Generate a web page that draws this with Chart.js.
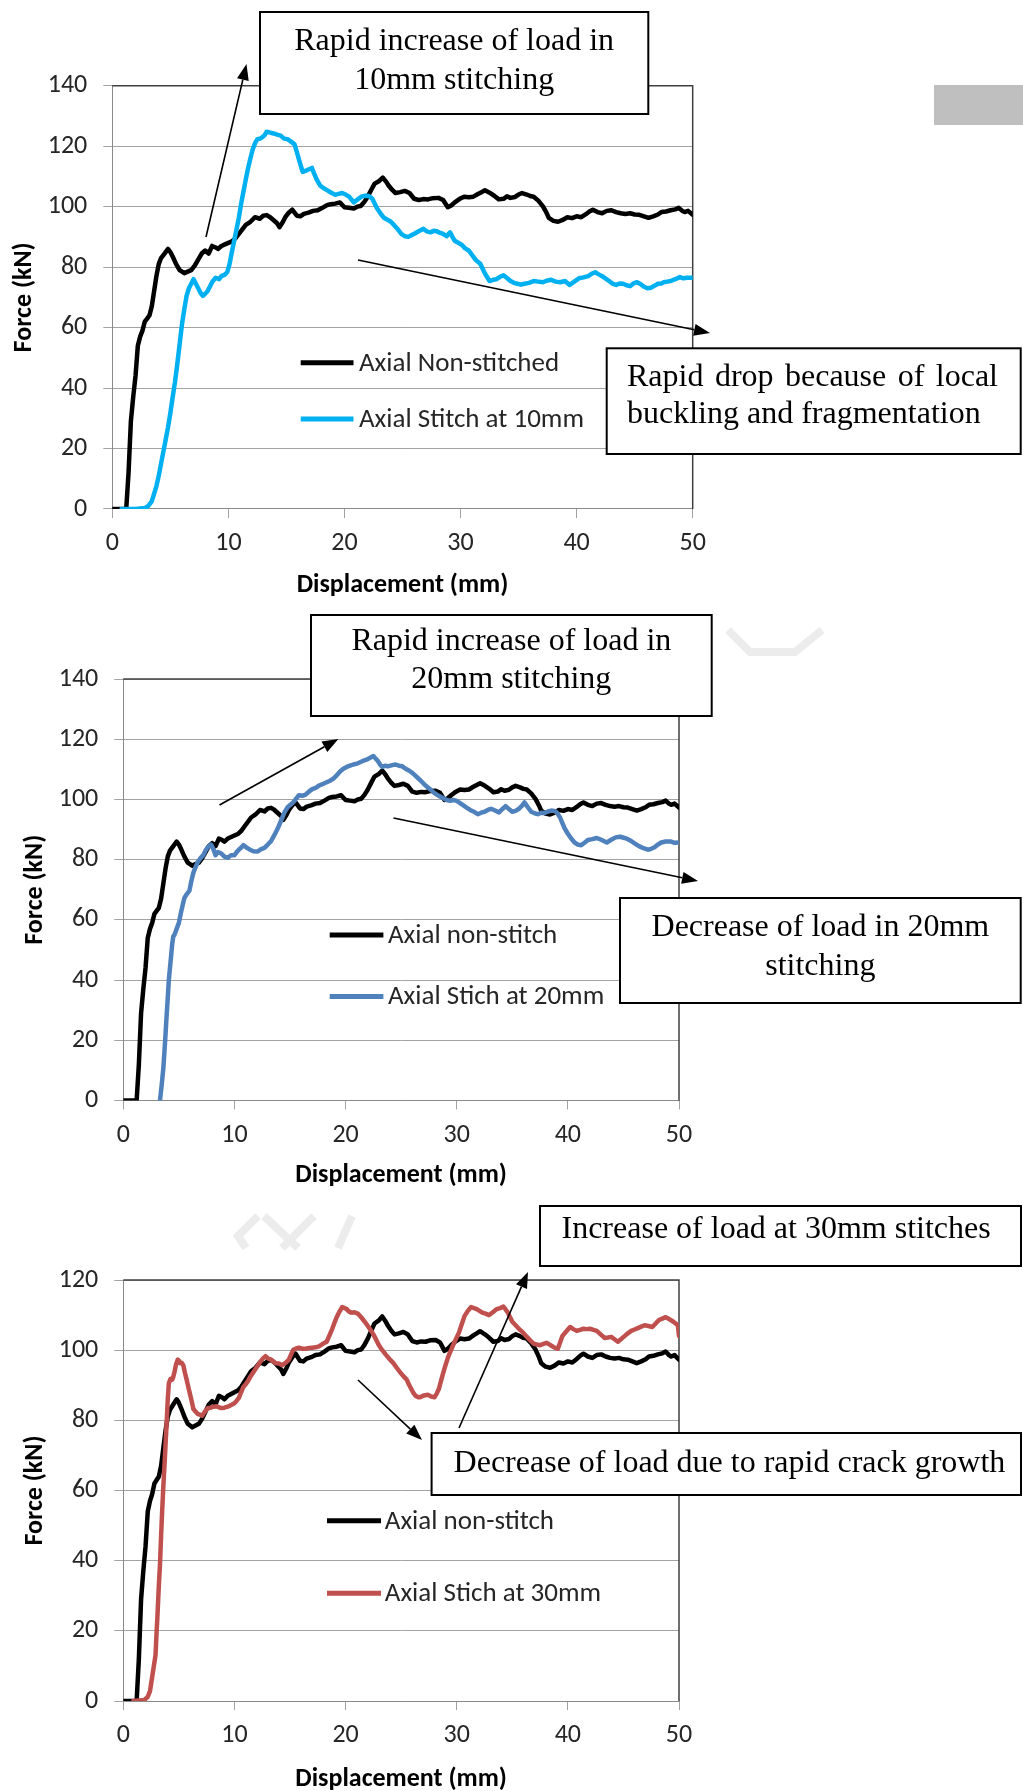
<!DOCTYPE html>
<html>
<head>
<meta charset="utf-8">
<script src="https://cdn.jsdelivr.net/npm/chart.js@4.4.1/dist/chart.umd.min.js"></script>
<style>
  html, body { margin: 0; padding: 0; background: #ffffff; width: 1023px; height: 1791px; overflow: hidden; }
  canvas { position: absolute; left: 0; top: 0; }
</style>
</head>
<body>
<canvas id="panel1" width="1023" height="1800"></canvas>
<canvas id="panel2" width="1023" height="1800"></canvas>
<canvas id="panel3" width="1023" height="1800"></canvas>
<script>
// ---- Load–displacement data (displacement in mm, force in kN) ----

// Axial, non-stitched specimen (reference curve shown in every panel)
const dispAxialNon = [
  0, 1.2, 1.4, 1.6, 1.8, 2.0, 2.2, 2.4, 2.6, 2.8,
  3.0, 3.2, 3.4, 3.6, 3.8, 4.0, 4.2, 4.5, 4.8, 5.0,
  5.2, 5.5, 5.8, 6.2, 6.5, 6.8, 7.1, 7.4, 7.7, 8.0,
  8.3, 8.6, 8.9, 9.1, 9.4, 9.7, 10.0, 10.3, 10.6, 10.9,
  11.2, 11.5, 11.9, 12.3, 12.7, 13.0, 13.3, 13.6, 13.9, 14.2,
  14.4, 14.7, 14.9, 15.2, 15.5, 15.9, 16.2, 16.5, 16.9, 17.3,
  17.7, 18.1, 18.5, 18.8, 19.2, 19.6, 20.0, 20.4, 20.8, 21.1,
  21.4, 21.7, 22.0, 22.3, 22.6, 23.0, 23.3, 23.6, 23.8, 24.1,
  24.4, 24.8, 25.2, 25.6, 26.0, 26.4, 26.8, 27.2, 27.6, 28.1,
  28.5, 28.9, 29.2, 29.5, 29.9, 30.3, 30.7, 31.1, 31.5, 31.8,
  32.1, 32.5, 32.9, 33.3, 33.7, 34.0, 34.3, 34.7, 35.0, 35.3,
  35.7, 36.0, 36.3, 36.7, 37.1, 37.4, 37.6, 38.0, 38.4, 38.8,
  39.2, 39.6, 40.0, 40.4, 40.8, 41.1, 41.4, 41.8, 42.2, 42.6,
  43.0, 43.4, 43.8, 44.2, 44.6, 45.0, 45.4, 45.8, 46.2, 46.6,
  47.0, 47.3, 47.7, 48.1, 48.5, 48.8, 49.1, 49.3, 49.6, 50.0
];
const forceAxialNon = [
  0, 0, 12, 29, 37, 44, 54, 57, 59, 62,
  63, 64, 67, 72, 77, 81, 83, 84.5, 86, 85,
  83.5, 81, 79, 78, 78.5, 79, 80.5, 82.5, 84.5, 85.5,
  84.5, 87, 86.5, 86, 87, 87.5, 88, 88.5, 89.5, 91,
  92.5, 94, 95, 96.5, 96, 97, 97.2, 96.5, 95.5, 94.5,
  93.2, 95, 96.5, 98, 99, 97, 96.8, 97.6, 98, 98.6,
  98.8, 99.6, 100.5, 100.8, 101, 101.4, 99.8, 99.6, 99.4, 100,
  100.2, 101.5, 103.3, 105.5, 107.6, 108.5, 109.6, 108.2, 107, 105.6,
  104.5, 104.8, 105.2, 104.5, 102.6, 102.2, 102.5, 102.4, 102.8, 102.9,
  102.2, 99.8, 100.4, 101.4, 102.5, 103.3, 103.1, 103.3, 104.2, 104.8,
  105.4, 104.6, 103.6, 102.4, 102.6, 103.4, 102.9, 103.2, 104, 104.5,
  104, 103.5, 103.3, 102, 100.1, 98, 96.3, 95.3, 95, 95.6,
  96.5, 96.2, 96.8, 96.5, 97.5, 98.4, 99, 98.2, 97.8, 98.6,
  98.8, 98.2, 97.8, 97.6, 97.8, 97.4, 97.3, 96.8, 96.3, 96.8,
  97.4, 98.2, 98.4, 98.8, 99.1, 99.6, 98.6, 98.2, 98.6, 97.3
];

// Axial, stitched at 10 mm
const dispStitch10 = [
  0.8, 2.0, 2.8, 3.1, 3.4, 3.6, 3.8, 4.0, 4.2, 4.4,
  4.6, 4.8, 5.0, 5.2, 5.4, 5.6, 5.8, 6.0, 6.2, 6.4,
  6.6, 6.8, 7.0, 7.2, 7.4, 7.6, 7.8, 8.0, 8.2, 8.4,
  8.6, 8.9, 9.2, 9.4, 9.7, 9.9, 10.1, 10.3, 10.5, 10.7,
  10.9, 11.1, 11.3, 11.5, 11.7, 11.9, 12.1, 12.3, 12.5, 12.8,
  13.1, 13.3, 13.6, 13.9, 14.2, 14.5, 14.8, 15.1, 15.4, 15.7,
  15.9, 16.1, 16.4, 16.8, 17.2, 17.4, 17.6, 17.9, 18.1, 18.6,
  18.9, 19.2, 19.5, 19.8, 20.1, 20.4, 20.8, 21.2, 21.5, 21.8,
  22.1, 22.4, 22.8, 23.1, 23.4, 24.0, 24.3, 24.6, 24.9, 25.2,
  25.5, 25.8, 26.1, 26.4, 26.8, 27.1, 27.4, 27.7, 27.9, 28.2,
  28.5, 28.8, 29.1, 29.3, 29.5, 30.1, 30.4, 30.7, 31.0, 31.3,
  31.7, 32.1, 32.5, 32.8, 33.1, 33.4, 33.7, 34.0, 34.3, 34.6,
  34.9, 35.2, 35.5, 35.9, 36.3, 36.7, 37.1, 37.4, 37.8, 38.2,
  38.6, 39.0, 39.4, 39.8, 40.2, 40.6, 41.0, 41.3, 41.6, 41.9,
  42.2, 42.5, 42.8, 43.1, 43.4, 43.7, 44.0, 44.3, 44.6, 44.9,
  45.2, 45.5, 45.8, 46.1, 46.4, 46.7, 47.0, 47.3, 47.5, 47.8,
  48.1, 48.5, 48.9, 49.2, 49.5, 50.0
];
const forceStitch10 = [
  0, 0, 0.3, 1, 2.5, 5, 7.6, 11, 15, 19,
  23, 27, 31.7, 37, 42, 48, 54.5, 61, 66, 70.5,
  73, 74.5, 76, 74.5, 73, 71.5, 70.5, 71.2, 72, 73.5,
  75, 76.5, 76, 77, 77.5, 78.3, 81, 85, 88.7, 92.5,
  96.3, 101, 105, 109, 112.8, 116, 119, 121, 122.3, 122.6,
  123.5, 124.8, 124.5, 124.2, 123.8, 123.5, 122.5, 122.3, 121.5, 120.6,
  118, 115.3, 111.5, 112.1, 112.8, 110.8, 109, 107, 106.4, 105.2,
  104.5, 103.9, 104.2, 104.5, 104, 103.3, 101.4, 102.6, 103.4, 103.6,
  103.5, 102.6, 99.5, 97.8, 96.3, 95, 93.8, 92.5, 91, 90.2,
  90, 90.6, 91.2, 91.9, 92.7, 91.8, 91.5, 92, 91.9, 91.4,
  91, 90.2, 91.5, 90, 88.7, 87.4, 86.2, 85.5, 84, 82.4,
  81.1, 77.9, 75.4, 75.8, 76, 76.8, 77.3, 76.4, 75.4, 74.8,
  74.5, 74.2, 74.5, 74.8, 75.4, 75.2, 75, 75.5, 75.8, 75.2,
  75, 75.4, 74.1, 75.2, 76.3, 76.6, 77, 77.8, 78.3, 77.6,
  77, 76.2, 75.4, 74.5, 74.1, 74.6, 74.5, 74, 73.7, 74.6,
  75, 74.4, 73.5, 73, 73.2, 73.8, 74.5, 74.6, 75, 75.2,
  75.4, 76, 76.7, 76.3, 76.5, 76.5
];

// Axial, stitched at 20 mm
const dispStitch20 = [
  3.3, 3.45, 3.6, 3.75, 3.9, 4.0, 4.1, 4.25, 4.4, 4.5,
  4.6, 4.8, 5.0, 5.2, 5.35, 5.5, 5.7, 5.95, 6.1, 6.3,
  6.5, 6.7, 6.95, 7.2, 7.4, 7.6, 7.9, 8.1, 8.3, 8.5,
  8.8, 9.1, 9.4, 9.7, 10.0, 10.2, 10.4, 10.6, 10.8, 11.1,
  11.4, 11.7, 12.1, 12.4, 12.7, 13.0, 13.3, 13.6, 13.9, 14.2,
  14.5, 14.8, 15.2, 15.5, 15.8, 16.1, 16.4, 16.7, 17.0, 17.3,
  17.6, 18.0, 18.3, 18.6, 18.9, 19.2, 19.5, 19.8, 20.1, 20.4,
  20.7, 21.1, 21.4, 21.7, 22.0, 22.3, 22.5, 22.7, 22.9, 23.1,
  23.3, 23.6, 23.8, 24.2, 24.5, 24.8, 25.1, 25.4, 25.7, 26.0,
  26.3, 26.6, 26.9, 27.2, 27.6, 27.9, 28.2, 28.5, 28.8, 29.1,
  29.4, 29.7, 30.0, 30.3, 30.7, 31.0, 31.3, 31.6, 31.9, 32.2,
  32.5, 32.8, 33.1, 33.4, 33.8, 34.1, 34.4, 34.7, 35.0, 35.3,
  35.6, 35.9, 36.1, 36.4, 36.7, 37.0, 37.3, 37.6, 37.9, 38.2,
  38.5, 38.8, 39.0, 39.3, 39.5, 39.7, 40.0, 40.3, 40.6, 40.9,
  41.2, 41.5, 41.8, 42.2, 42.6, 43.0, 43.5, 43.9, 44.3, 44.7,
  45.1, 45.4, 45.7, 46.0, 46.4, 46.8, 47.2, 47.5, 47.8, 48.1,
  48.4, 48.8, 49.3, 49.6, 50.0
];
const forceStitch20 = [
  0, 5, 10.6, 19, 28.4, 34, 40.2, 46, 52, 54.5,
  55, 57, 59, 62.6, 65, 67.3, 68.5, 69.7, 72.5, 75.6,
  77.5, 79.2, 80.5, 81.5, 83, 84.1, 85, 83.5, 81.5, 82.5,
  82.1, 81, 80.6, 81.5, 81.5, 82.5, 83.3, 84, 84.8, 84,
  83.3, 82.8, 82.7, 83.5, 83.9, 85, 86.2, 88.2, 90.4, 93,
  95.7, 97.5, 98.7, 100, 101.4, 101.2, 101.6, 102.6, 103.4, 103.8,
  104.6, 105.2, 105.7, 106.2, 106.9, 108, 109.3, 110.2, 110.8, 111.2,
  111.6, 112, 112.5, 113, 113.4, 114, 114.4, 113.6, 112.8, 111.6,
  110.8, 111.2, 111, 111.4, 111.6, 111.2, 111, 110.2, 109.6, 108.8,
  107.8, 106.8, 105.7, 104.6, 103.4, 102.4, 101.6, 101, 100.4, 99.8,
  99.5, 99.8, 99.5, 98.8, 97.8, 97, 96.3, 95.8, 95.1, 95.6,
  95.9, 96.5, 96.9, 96.4, 95.7, 96.8, 97.8, 96.8, 95.9, 96.2,
  96.9, 98, 99, 97.4, 95.9, 95.4, 95.1, 95.6, 95.5, 96,
  96.3, 96.2, 95.7, 94, 92.2, 90.5, 88.6, 87, 85.7, 85,
  84.8, 85.6, 86.5, 86.8, 87.2, 86.6, 85.7, 86.6, 87.4, 87.6,
  87.2, 86.8, 86.2, 85.4, 84.5, 83.8, 83.3, 83.6, 84.1, 85,
  85.7, 86, 86, 85.6, 85.7
];

// Axial, stitched at 30 mm
const dispStitch30 = [
  0.9, 1.9, 2.2, 2.4, 2.6, 2.75, 2.9, 3.0, 3.06, 3.2,
  3.3, 3.4, 3.5, 3.6, 3.7, 3.8, 3.9, 4.0, 4.1, 4.25,
  4.4, 4.5, 4.6, 4.75, 4.9, 5.0, 5.1, 5.25, 5.4, 5.55,
  5.7, 5.85, 6.0, 6.15, 6.3, 6.5, 6.7, 6.9, 7.1, 7.35,
  7.6, 7.85, 8.1, 8.4, 8.8, 9.1, 9.4, 9.7, 10.0, 10.2,
  10.4, 10.6, 10.8, 11.0, 11.2, 11.45, 11.7, 12.0, 12.3, 12.55,
  12.8, 13.05, 13.3, 13.5, 13.7, 14.0, 14.3, 14.6, 14.9, 15.1,
  15.3, 15.55, 15.8, 16.1, 16.4, 16.7, 17.0, 17.3, 17.6, 17.95,
  18.3, 18.55, 18.8, 19.0, 19.2, 19.45, 19.7, 19.9, 20.1, 20.3,
  20.5, 20.8, 21.1, 21.35, 21.6, 21.8, 22.0, 22.25, 22.5, 22.75,
  23.0, 23.3, 23.6, 23.95, 24.3, 24.6, 24.9, 25.2, 25.5, 25.7,
  25.9, 26.1, 26.3, 26.5, 26.7, 27.05, 27.4, 27.7, 28.0, 28.2,
  28.4, 28.6, 28.8, 29.0, 29.2, 29.4, 29.6, 29.9, 30.2, 30.45,
  30.7, 31.0, 31.3, 31.55, 31.8, 32.05, 32.3, 32.6, 32.9, 33.25,
  33.6, 33.9, 34.2, 34.4, 34.6, 34.8, 35.0, 35.3, 35.6, 35.9,
  36.2, 36.55, 36.9, 37.2, 37.5, 37.8, 38.1, 38.4, 38.7, 38.9,
  39.1, 39.3, 39.5, 39.85, 40.2, 40.5, 40.8, 41.1, 41.4, 41.7,
  42.0, 42.3, 42.6, 42.95, 43.3, 43.6, 43.9, 44.2, 44.5, 44.8,
  45.1, 45.4, 45.7, 46.0, 46.3, 46.6, 46.9, 47.25, 47.6, 47.9,
  48.2, 48.5, 48.8, 49.15, 49.5, 49.7, 49.9, 50.0
];
const forceStitch30 = [
  0, 0.3, 1.2, 2.8, 6.9, 10, 13.1, 20, 23.4, 33,
  38.9, 47, 54.4, 61, 66.8, 73, 79.2, 86, 90.6, 91.8,
  91.6, 92.4, 93.7, 96, 97.3, 97, 96.3, 96.4, 95.7, 93.5,
  91.6, 89.5, 87.5, 85.5, 83.3, 82.5, 81.8, 81.6, 81.3, 82.5,
  83.5, 83.6, 83.9, 84, 83.5, 83.6, 83.9, 84.4, 84.9, 85.6,
  86.4, 88, 89.5, 90.2, 91.1, 92.5, 93.7, 95.1, 96.6, 97.6,
  98.3, 97.6, 97.3, 96.8, 96.3, 96.2, 95.7, 96.4, 97.3, 98.8,
  100.1, 100.5, 100.7, 100.4, 100.4, 100.6, 100.7, 100.8, 101.1, 101.8,
  102.4, 104.2, 106.1, 107.8, 109.4, 111, 112.3, 112, 111.7, 111,
  110.7, 110.8, 110.4, 109.6, 108.6, 107.8, 106.9, 105.8, 104.5, 103,
  101.4, 100, 98.8, 97.5, 96.3, 95, 93.7, 92.6, 91.6, 90.2,
  89, 87.8, 87, 86.6, 86.6, 87.1, 87.3, 86.8, 86.6, 87.6,
  89, 91.4, 93.7, 95.8, 97.8, 99.4, 100.9, 103, 105, 107.4,
  109.7, 111.2, 112.3, 112, 111.7, 111.2, 110.7, 110.4, 110, 110.8,
  111.7, 112, 112.4, 111.6, 110.7, 109.4, 108.1, 107.1, 106.1, 105.2,
  104.2, 103, 101.9, 101.6, 101.4, 101.8, 102.1, 101.5, 100.9, 100.6,
  100.4, 102.2, 104, 105.3, 106.6, 106, 105.5, 105.8, 106.1, 106,
  106.1, 105.8, 105.5, 104.5, 103.5, 103.6, 103.8, 103.1, 102.4, 103.2,
  104, 104.8, 105.5, 105.9, 106.3, 106.7, 107.1, 106.9, 106.6, 107.6,
  108.6, 109, 109.4, 108.8, 108.1, 107.6, 107.1, 104
];

// Axis ranges and tick spacing
const dispRange = [0, 50];
const dispStep = 10;
const forceStep = 20;
const forceMax = [140, 140, 120];

// Text
const xTitle = 'Displacement (mm)';
const yTitle = 'Force (kN)';
const seriesLabels = [
  ['Axial Non-stitched', 'Axial Stitch at 10mm'],
  ['Axial non-stitch', 'Axial Stich at 20mm'],
  ['Axial non-stitch', 'Axial Stich at 30mm']
];
const noteTexts = [
  [['Rapid increase of load in', '10mm stitching'], ['Rapid drop because of local', 'buckling and fragmentation']],
  [['Rapid increase of load in', '20mm stitching'], ['Decrease of load in 20mm', 'stitching']],
  [['Increase of load at 30mm stitches'], ['Decrease of load due to rapid crack growth']]
];
const seriesColors = ['#000000', '#00b0f0', '#4f81bd', '#c0504d'];

// ---- Drawing helpers ----
const SANS = 'Carlito, Calibri, Lato, "Open Sans", sans-serif';
const SERIF = '"Liberation Serif", "Times New Roman", serif';
const GRID = '#a3a3a3';
const AXIS = '#8a8a8a';

function toPoints(xs, ys) {
  return xs.map((x, i) => ({ x: x, y: ys[i] }));
}

function drawArrow(ctx, a) {
  const ang = Math.atan2(a.y1 - a.y0, a.x1 - a.x0);
  const L = 16, W = 6;
  const bx = a.x1 - L * Math.cos(ang), by = a.y1 - L * Math.sin(ang);
  ctx.beginPath();
  ctx.moveTo(a.x0, a.y0);
  ctx.lineTo(bx, by);
  ctx.stroke();
  ctx.beginPath();
  ctx.moveTo(a.x1, a.y1);
  ctx.lineTo(bx + W * Math.sin(ang), by - W * Math.cos(ang));
  ctx.lineTo(bx - W * Math.sin(ang), by + W * Math.cos(ang));
  ctx.closePath();
  ctx.fill();
}

function drawNote(ctx, b, lines) {
  ctx.fillStyle = '#ffffff';
  ctx.fillRect(b.x, b.y, b.w, b.h);
  ctx.strokeStyle = '#000000';
  ctx.lineWidth = 2;
  ctx.strokeRect(b.x, b.y, b.w, b.h);
  ctx.fillStyle = '#000000';
  ctx.font = '32px ' + SERIF;
  ctx.textBaseline = 'middle';
  lines.forEach((t, i) => {
    const y = b.ly[i];
    if (b.justify && b.justify[i]) {
      const words = t.split(' ');
      const widths = words.map(w => ctx.measureText(w).width);
      const total = widths.reduce((s, w) => s + w, 0);
      const gap = (b.justify[i] - b.tx - total) / (words.length - 1);
      let x = b.tx;
      ctx.textAlign = 'left';
      words.forEach((w, k) => { ctx.fillText(w, x, y); x += widths[k] + gap; });
    } else if (b.align === 'left') {
      ctx.textAlign = 'left';
      ctx.fillText(t, b.tx, y);
    } else {
      ctx.textAlign = 'center';
      ctx.fillText(t, b.x + b.w / 2, y);
    }
  });
}

// Plot frame, in-plot legend, faint background marks, callouts and arrows
const decor = {
  id: 'decor',
  beforeDraw(chart, args, opts) {
    const ctx = chart.ctx;
    ctx.save();
    ctx.strokeStyle = '#ececec';
    ctx.lineCap = 'butt';
    ctx.lineJoin = 'miter';
    (opts.faint || []).forEach(p => {
      ctx.lineWidth = p.w;
      ctx.beginPath();
      p.pts.forEach((q, i) => (i ? ctx.lineTo(q[0], q[1]) : ctx.moveTo(q[0], q[1])));
      ctx.stroke();
    });
    ctx.restore();
  },
  beforeDatasetsDraw(chart, args, opts) {
    const { ctx, chartArea: a } = chart;
    ctx.save();
    ctx.strokeStyle = '#404040';
    ctx.lineWidth = 1.5;
    ctx.beginPath();
    ctx.moveTo(a.left, a.top);
    ctx.lineTo(a.right, a.top);
    ctx.lineTo(a.right, a.bottom);
    ctx.stroke();
    ctx.restore();
  },
  afterDraw(chart, args, opts) {
    const ctx = chart.ctx;
    ctx.save();
    // legend
    const lg = opts.legend;
    [0, 1].forEach((di, k) => {
      const ds = chart.data.datasets[di];
      const y = lg.ys[k];
      ctx.strokeStyle = ds.borderColor;
      ctx.lineWidth = 5;
      ctx.lineCap = 'butt';
      ctx.beginPath();
      ctx.moveTo(lg.x0, y);
      ctx.lineTo(lg.x1, y);
      ctx.stroke();
      ctx.fillStyle = '#262626';
      ctx.font = lg.size + 'px ' + SANS;
      ctx.textAlign = 'left';
      ctx.textBaseline = 'middle';
      ctx.fillText(ds.label, lg.tx, y + 1);
    });
    // shaded marks
    (opts.shades || []).forEach(r => {
      ctx.fillStyle = r.c;
      ctx.fillRect(r.x, r.y, r.w, r.h);
    });
    // arrows
    ctx.strokeStyle = '#000000';
    ctx.fillStyle = '#000000';
    ctx.lineWidth = 1.6;
    opts.arrows.forEach(a => drawArrow(ctx, a));
    // callout boxes
    opts.notes.forEach((b, i) => drawNote(ctx, b, opts.texts[i]));
    ctx.restore();
  }
};

function buildPanel(canvasId, idx, stitchDisp, stitchForce, color, geo, deco) {
  const tickFont = { family: SANS, size: 26 };
  const titleFont = { family: SANS, size: 26, weight: 'bold', lineHeight: 1.2 };
  return new Chart(document.getElementById(canvasId), {
    type: 'line',
    data: {
      datasets: [
        { label: seriesLabels[idx][0], data: toPoints(dispAxialNon, forceAxialNon), borderColor: seriesColors[0], order: 2 },
        { label: seriesLabels[idx][1], data: toPoints(stitchDisp, stitchForce), borderColor: color, order: 1 }
      ]
    },
    options: {
      responsive: false,
      animation: false,
      events: [],
      layout: { padding: geo.pad },
      elements: {
        line: { borderWidth: 4.5, tension: 0, borderJoinStyle: 'round', borderCapStyle: 'round', fill: false },
        point: { radius: 0, hoverRadius: 0 }
      },
      plugins: {
        legend: { display: false },
        tooltip: { enabled: false },
        decor: deco
      },
      scales: {
        x: {
          type: 'linear',
          min: dispRange[0], max: dispRange[1],
          ticks: { stepSize: dispStep, padding: 10, color: '#262626', font: tickFont, maxRotation: 0 },
          grid: { drawOnChartArea: false, drawTicks: true, tickLength: 9, color: GRID, tickColor: GRID },
          border: { display: true, color: AXIS, width: 1 },
          title: { display: true, text: xTitle, color: '#000000', font: titleFont, padding: 0 },
          afterFit: s => { s.height = geo.xH; }
        },
        y: {
          type: 'linear',
          min: 0, max: forceMax[idx],
          ticks: { stepSize: forceStep, padding: 16, color: '#262626', font: tickFont },
          grid: { drawOnChartArea: true, drawTicks: true, tickLength: 9, color: GRID, tickColor: GRID },
          border: { display: true, color: AXIS, width: 1 },
          title: { display: true, text: yTitle, color: '#000000', font: titleFont, padding: 0 },
          afterFit: s => { s.width = geo.yW; }
        }
      }
    },
    plugins: [decor]
  });
}

// Panel 1: stitch spacing 10 mm
buildPanel('panel1', 0, dispStitch10, forceStitch10, seriesColors[1],
  { pad: { left: 9.1, top: 85.7, right: 330.3, bottom: 1198.7 }, yW: 103.2, xH: 92.3 },
  {
    legend: { x0: 300.7, x1: 353.5, tx: 359, ys: [362.8, 419], size: 27 },
    shades: [{ x: 934, y: 85, w: 89, h: 40, c: '#bfbfbf' }],
    arrows: [
      { x0: 206, y0: 237, x1: 246.5, y1: 64 },
      { x0: 358, y0: 260, x1: 710, y1: 333 }
    ],
    notes: [
      { x: 260, y: 12, w: 388.3, h: 102, ly: [42, 80.4] },
      { x: 606.7, y: 348.3, w: 414, h: 105.7, ly: [378, 415], tx: 627, align: 'left', justify: [998, 0] }
    ],
    texts: noteTexts[0]
  });

// Panel 2: stitch spacing 20 mm
buildPanel('panel2', 1, dispStitch20, forceStitch20, seriesColors[2],
  { pad: { left: 20, top: 679, right: 344, bottom: 608.7 }, yW: 103.3, xH: 90.8 },
  {
    legend: { x0: 329.7, x1: 383.4, tx: 388, ys: [935, 996.4], size: 27 },
    faint: [
      { w: 8, pts: [[728, 630], [750, 652], [795, 652], [822, 630]] }
    ],
    arrows: [
      { x0: 219.5, y0: 805, x1: 338.4, y1: 739 },
      { x0: 393.5, y0: 818, x1: 698, y1: 881 }
    ],
    notes: [
      { x: 311, y: 615, w: 400.7, h: 101, ly: [642, 679.3] },
      { x: 620, y: 898, w: 400.7, h: 105, ly: [928, 966.7] }
    ],
    texts: noteTexts[1]
  });

// Panel 3: stitch spacing 30 mm
buildPanel('panel3', 2, dispStitch30, forceStitch30, seriesColors[3],
  { pad: { left: 20, top: 1280, right: 344, bottom: 5.4 }, yW: 103.3, xH: 93.6 },
  {
    legend: { x0: 327, x1: 381, tx: 384.8, ys: [1520.8, 1593.3], size: 27 },
    faint: [
      { w: 8, pts: [[258, 1216], [238, 1236], [246, 1248]] },
      { w: 8, pts: [[264, 1216], [298, 1248]] },
      { w: 8, pts: [[314, 1216], [282, 1248]] },
      { w: 8, pts: [[352, 1216], [338, 1248]] }
    ],
    arrows: [
      { x0: 358, y0: 1380, x1: 422, y1: 1440 },
      { x0: 459, y0: 1428, x1: 528, y1: 1272 }
    ],
    notes: [
      { x: 540, y: 1206, w: 481, h: 60, ly: [1230], tx: 561.5, align: 'left' },
      { x: 431.6, y: 1433, w: 589.4, h: 62, ly: [1464], tx: 453.6, align: 'left' }
    ],
    texts: noteTexts[2]
  });
</script>
</body>
</html>
